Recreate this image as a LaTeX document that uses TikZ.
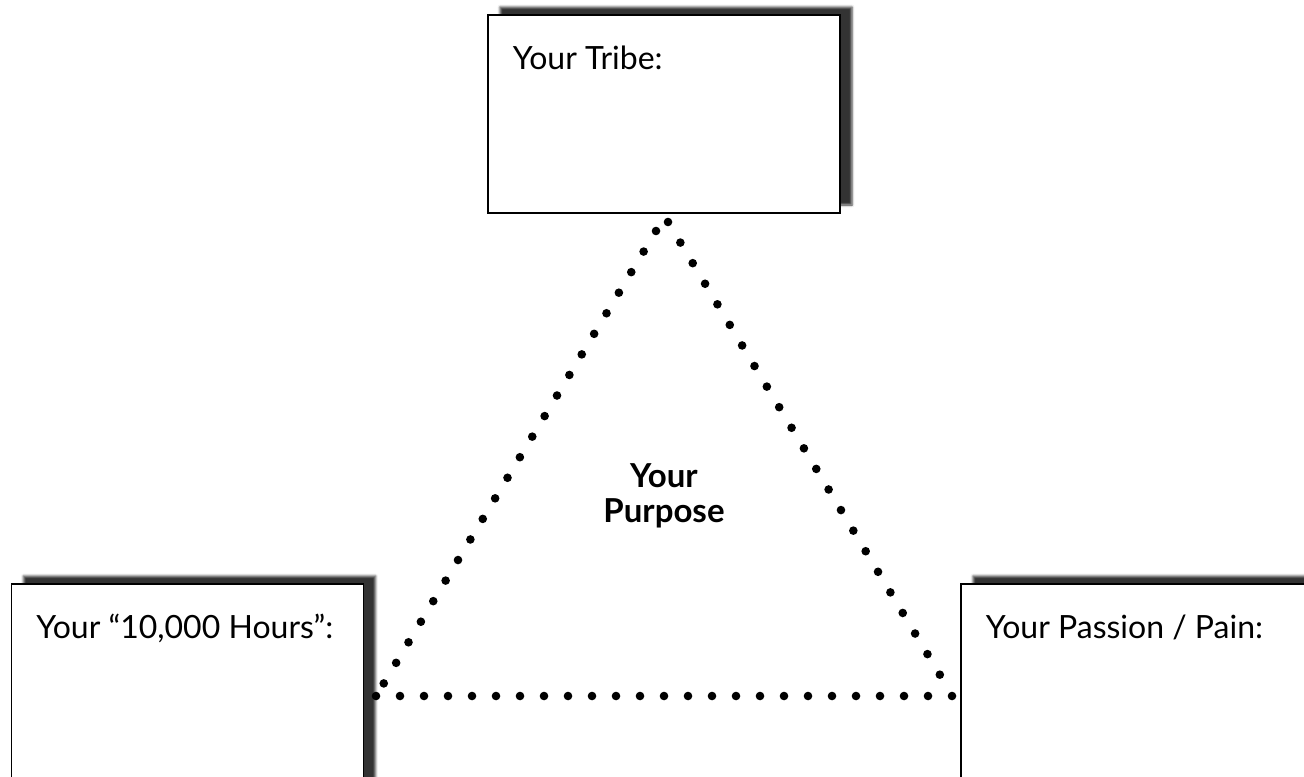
\documentclass[tikz,border=0pt]{standalone}
\usepackage{fontspec}
\setmainfont{Lato}
\usetikzlibrary{positioning,shadows.blur}

\begin{document}
\begin{tikzpicture}[
    x=0.5pt, y=-0.5pt,
    font=\fontsize{16}{17.5}\selectfont,
    card/.style={rectangle, draw=black, line width=0.6pt, fill=white,
      minimum width=176pt, minimum height=99pt,
      blur shadow={shadow xshift=6pt, shadow yshift=4pt,
        shadow blur radius=1.2pt, shadow opacity=80}},
    tag/.style={anchor=base west, xshift=12.5pt, yshift=-27.5pt, inner sep=0pt},
    dots/.style={line width=4.3pt, line cap=round,
      dash pattern=on 0pt off 12pt, shorten >=-1pt}
  ]
    \useasboundingbox (0,0) rectangle (1304,776);
    \clip (0,0) rectangle (1304,776);

    \node[card, label={[tag]north west:Your Tribe:}] (tribe) at (664,114) {};
    \node[card, minimum height=120pt,
      label={[tag]north west:Your “10,000 Hours”:}] (hours) at (187.5,704) {};
    \node[card, minimum height=120pt,
      label={[tag]north west:Your Passion / Pain:}] (passion) at (1137,704) {};

    \node[font=\fontsize{16.5}{17.5}\selectfont\bfseries, align=center] (purpose) at (664,496) {Your\\Purpose};

    \coordinate (l-top) at (656,231);
    \coordinate (l-bot) at (384,683);
    \coordinate (r-top) at (668,222);
    \coordinate (r-bot) at (940,675);
    \coordinate (b-left) at (376,696);
    \coordinate (b-right) at (952,696);

    \draw[dots] (l-top) -- (l-bot);
    \draw[dots] (r-top) -- (r-bot);
    \draw[dots] (b-left) -- (b-right);
  \end{tikzpicture}
\end{document}
